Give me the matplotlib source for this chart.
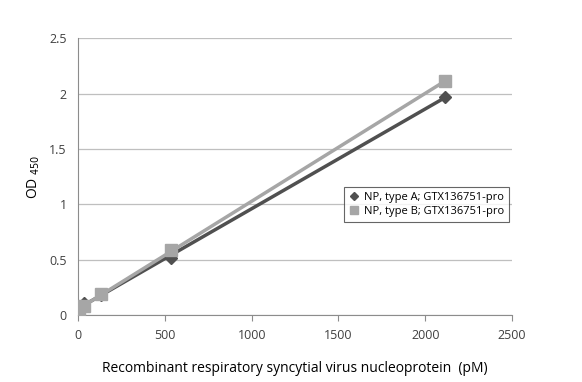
import numpy as np
import matplotlib
matplotlib.use("Agg")
import matplotlib.pyplot as plt

conc = [0, 8.3, 33.3, 133, 533, 2115]
od_a = [0.05, 0.07, 0.11, 0.18, 0.52, 1.97]
od_b = [0.04, 0.06, 0.08, 0.19, 0.59, 2.11]
labels = ["NP, type A; GTX136751-pro", "NP, type B; GTX136751-pro"]

plt.rcParams["font.family"] = ["Open Sans", "DejaVu Sans"]

fig = plt.figure(figsize=(5.82, 3.82), dpi=100)
ax = fig.add_axes([0.134, 0.175, 0.746, 0.725])

col_a = "#505050"
col_b = "#a6a6a6"
xs = np.array([0, max(conc)])
# linear trend lines through the points
for y, c in ((od_a, col_a), (od_b, col_b)):
    k, b = np.polyfit(conc, y, 1)
    ax.plot(xs, k * xs + b, color=c, lw=2.5, zorder=2)

ax.plot(conc, od_a, ls="none", marker="D", ms=6, color=col_a,
        label=labels[0], zorder=3)
ax.plot(conc, od_b, ls="none", marker="s", ms=8, color=col_b,
        label=labels[1], zorder=3)

ax.set_xlim(0, 2500)
ax.set_ylim(0, 2.5)
ax.set_xticks(range(0, 2501, 500))
ax.set_yticks([0, 0.5, 1, 1.5, 2, 2.5])
ax.set_yticklabels(["0", "0.5", "1", "1.5", "2", "2.5"])
ax.grid(axis="y", color="#bfbfbf", lw=0.9)
ax.set_axisbelow(True)
for s in ("top", "right"):
    ax.spines[s].set_visible(False)
ax.spines["left"].set_color("#8c8c8c")
ax.spines["bottom"].set_color("#8c8c8c")
ax.tick_params(axis="y", length=0, labelsize=9, colors="#404040", pad=8)
ax.tick_params(axis="x", length=4, color="#8c8c8c", labelsize=9,
               colors="#404040", pad=6)
for t in ax.get_xticklabels() + ax.get_yticklabels():
    t.set_color("#404040")

ax.set_xlabel("Recombinant respiratory syncytial virus nucleoprotein  (pM)",
              fontsize=10, labelpad=14)
ax.set_ylabel("OD $_{450}$", fontsize=10, labelpad=5)

leg = ax.legend(loc="center right", bbox_to_anchor=(1.005, 0.40), fontsize=8,
                frameon=True, fancybox=False, edgecolor="#404040",
                handlelength=0.8, handletextpad=0.5, borderpad=0.45,
                labelspacing=0.3, markerscale=0.65)
leg.get_frame().set_linewidth(0.8)

fig.savefig("out.png", dpi=100)
